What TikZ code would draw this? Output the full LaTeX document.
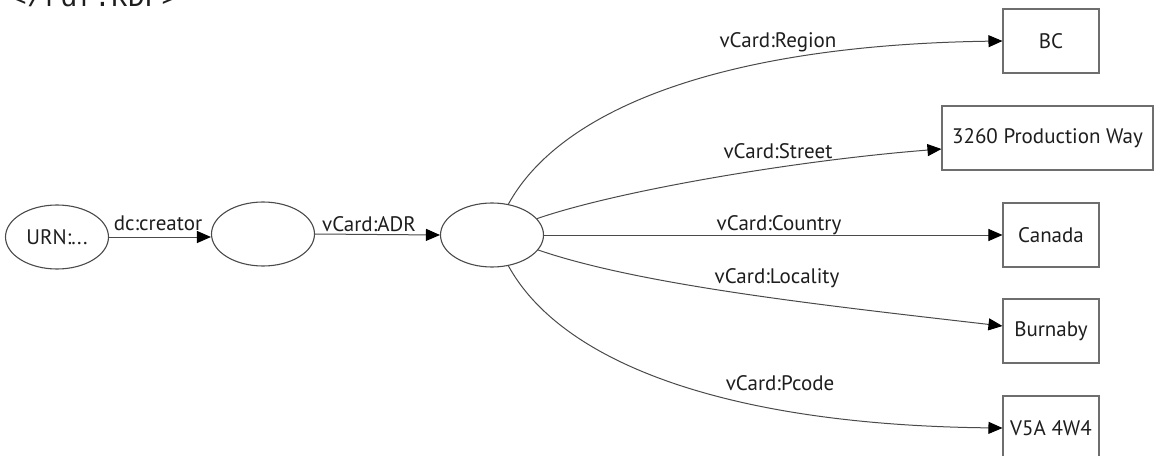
\documentclass[tikz,border=0pt]{standalone}
\usepackage{fontspec}
\setmainfont{PT Sans}
\newfontfamily\monofnt{Liberation Mono}
\usetikzlibrary{shapes.geometric,arrows.meta}
\definecolor{lineg}{HTML}{4A4A4A}
\definecolor{boxg}{HTML}{6E6E6E}
\definecolor{txt}{HTML}{1E1E1E}
\tikzset{
  res/.style={ellipse,draw=lineg,line width=1.1pt,minimum width=103pt,minimum height=64pt,inner sep=0pt,text=txt,font=\fontsize{21}{23}\selectfont},
  lit/.style={rectangle,draw=boxg,line width=1.1pt,minimum height=64pt,inner sep=0pt,text=txt,font=\fontsize{21}{23}\selectfont},
  prop/.style={draw=lineg,line width=1pt,-{Triangle[length=14pt,width=12pt,color=black]},shorten >=0pt},
  lab/.style={anchor=base,inner sep=0pt,text=txt,font=\fontsize{21}{23}\selectfont},
}
\begin{document}
\begin{tikzpicture}[x=1pt,y=-1pt]
\useasboundingbox (0,0) rectangle (1156,455);
\clip (0,0) rectangle (1156,455);
\fill[white] (0,0) rectangle (1156,455);
% clipped heading text
\node[anchor=base west,inner sep=0pt,font=\monofnt\fontsize{28}{30}\selectfont,text=txt] (hdr) at (10,6) {</rdf:RDF>};
% nodes
\node[res] (urn) at (57,237) {URN:...};
\node[res] (b1) at (263,234) {};
\node[res] (b2) at (492,235) {};
\node[lit,minimum width=96pt] (bc) at (1051,41) {BC};
\node[lit,minimum width=211pt] (st) at (1047.5,138) {3260 Production Way};
\node[lit,minimum width=96pt] (ca) at (1051,235) {Canada};
\node[lit,minimum width=96pt] (bu) at (1051,331) {Burnaby};
\node[lit,minimum width=96pt] (pc) at (1051,428) {V5A 4W4};
% connectors
\draw[prop] (urn.east) -- (b1.west |- urn.east);
\draw[prop] (b1.east) -- (b2.west);
\draw[prop] (b2.62) .. controls (560,110) and (720,45) .. (bc.west);
\draw[prop] (b2.20) .. controls (620,190) and (800,160) .. ([yshift=-11pt]st.west);
\draw[prop] (b2.east) -- (ca.west);
\draw[prop] (b2.-18) .. controls (640,285) and (820,305) .. ([yshift=5pt]bu.west);
\draw[prop] (b2.-62) .. controls (560,360) and (720,425) .. (pc.west);
% labels
\node[lab] (l1) at (158,230) {dc:creator};
\node[lab] (l2) at (369,231) {vCard:ADR};
\node[lab] (l3) at (778,47) {vCard:Region};
\node[lab] (l4) at (778,158) {vCard:Street};
\node[lab] (l5) at (779,230) {vCard:Country};
\node[lab] (l6) at (777,283) {vCard:Locality};
\node[lab] (l7) at (780,390) {vCard:Pcode};
\end{tikzpicture}
\end{document}
